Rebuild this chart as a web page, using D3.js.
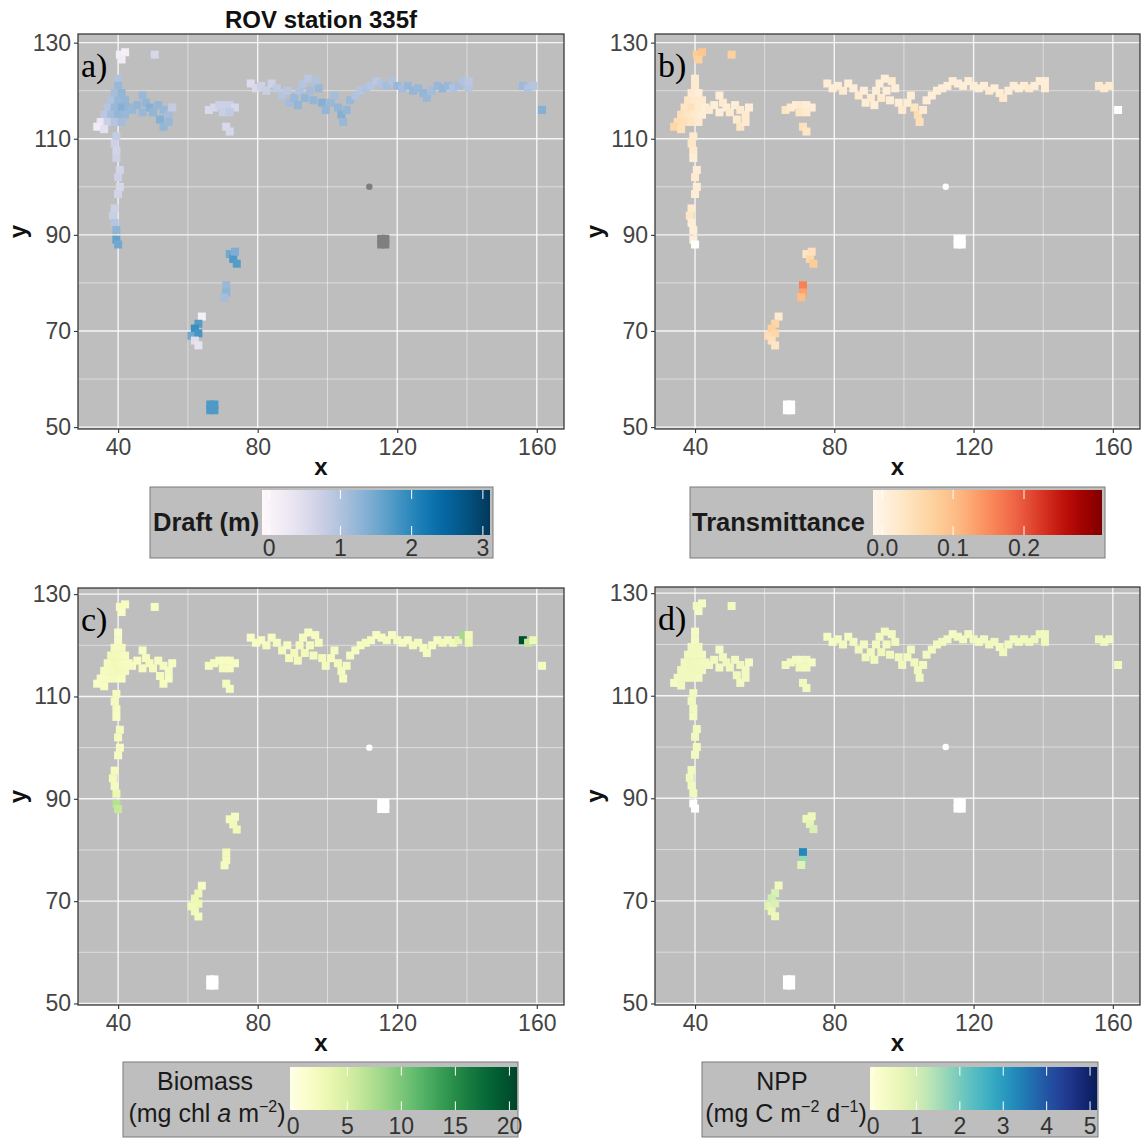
<!DOCTYPE html>
<html>
<head>
<meta charset="utf-8">
<script src="https://cdn.jsdelivr.net/npm/d3@7"></script>
<style>
  body { margin: 0; background: #fff; }
  svg { display: block; }
  text { font-family: "Liberation Sans", Arial, Helvetica, sans-serif; }
</style>
</head>
<body>
<svg id="chart" width="1142" height="1140"></svg>
<script>
// ROV survey cells at station 335f: track position (x, y in m) and per-cell measurements.
// null marks a cell without a valid value for that variable.

// Track cells, in order: surfacing patch, western blob, western stem,
// mid group, northern line, eastern end, isolated blocks, southern leg.
const cellX = [
  40.5, 42, 41, 50.5,
  40, 40, 39, 41, 38, 40, 42, 37, 39, 41, 43, 36, 38, 40, 42, 35, 37, 39, 41, 34, 36,
  44, 45.5, 47, 48, 49, 50, 47, 51.5, 53, 54.5, 55.5, 52, 53, 54.5,
  39.5, 39, 39.5, 39.5, 40.5, 40, 40.5, 40, 39, 38.5, 39, 39.5, 39.5, 40,
  66, 67.5, 69, 70.5, 72, 73.5, 70, 72, 71, 72,
  78, 79.5, 81, 82.5, 84, 85.5, 87, 88.5, 89, 90.5, 91.5, 92, 93, 93.5, 94.5, 95, 96,
  96.5, 97.5, 98.5, 99.5, 101, 102, 103, 104, 104.5, 105.5, 106.5, 108, 109.5, 111,
  112.5, 114, 115.5, 117, 118.5, 120, 121.5, 123, 124.5, 126, 127.5, 128.5, 130,
  131.5, 133, 134.5, 136, 137.5, 139, 140.5, 140.5,
  156, 157.5, 159, 161.5,
  115.4, 116.6, 115.4, 116.6,
  66.4, 67.6, 66.4, 67.6,
  72, 73, 74, 73.5, 71, 71, 70.5, 64, 63, 62, 61, 63, 62, 63
];
const cellY = [
  127.5, 128, 126.5, 127.5,
  122.5, 121, 119.5, 119.5, 118, 118, 118, 116.5, 116.5, 116.5, 116.5, 115, 115, 115, 115, 113.5, 113.5, 113.5, 113.5, 112.5, 112,
  116, 117, 119, 117.5, 116.5, 115.5, 115.5, 117, 116, 115, 116.5, 114, 112.5, 113.5,
  110.5, 109, 107.5, 106, 103.5, 102, 100, 98.5, 95.5, 94, 92.5, 91, 89, 88,
  116, 116.5, 117, 117, 117, 116.5, 115.5, 115.5, 112.5, 111.5,
  121.5, 120.5, 121, 120, 121.5, 120.5, 119, 120, 117.5, 118.5, 117, 120, 121.5, 118.5, 122.5, 120, 118,
  122, 120.5, 117.5, 116, 117.5, 119, 116.5, 115, 113.5, 116, 118, 119, 120, 120.5,
  121, 122, 121.5, 121, 122, 121, 120.5, 121, 120, 120.5, 119.5, 118.5, 120,
  121, 120.5, 121, 120.5, 121, 122, 120.5, 122,
  121, 120.5, 121, 116,
  88, 88, 89.2, 89.2,
  53.5, 53.5, 54.7, 54.7,
  86, 85, 84, 86.5, 79.5, 78, 77, 73, 71.5, 70.5, 69, 69.5, 68, 67
];
// Ice draft (m)
const draft = [
  0.15, 0.1, 0.2, 0.6,
  1.0, 1.2, 1.1, 1.25, 1.0, 1.2, 1.25, 0.95, 1.2, 1.35, 1.25, 0.9, 1.1, 1.25, 1.2, 0.3, 0.75, 0.95, 1.1, 0.2, 0.4,
  1.2, 1.25, 1.2, 1.25, 1.35, 1.25, 1.2, 1.25, 1.2, 1.1, 0.8, 1.35, 1.25, 1.2,
  0.8, 0.7, 0.65, 0.7, 0.65, 0.7, 0.6, 0.65, 0.7, 0.75, 0.95, 1.3, 1.6, 1.5,
  0.55, 0.6, 0.7, 0.7, 0.75, 0.6, 0.75, 0.85, 0.55, 0.6,
  0.5, 0.55, 0.7, 0.75, 0.7, 0.85, 0.95, 0.9, 1.1, 1.2, 1.25, 1.0, 0.95, 1.25, 0.9, 1.1, 1.25,
  1.0, 1.2, 1.35, 1.25, 1.2, 1.1, 1.25, 1.35, 1.2, 1.25, 1.2, 1.0, 0.95, 1.0,
  0.95, 0.9, 1.0, 1.1, 1.0, 1.2, 1.1, 1.2, 1.25, 1.2, 1.25, 1.2, 1.1,
  1.2, 1.25, 1.2, 1.0, 1.1, 1.0, 0.95, 0.9,
  1.15, 1.0, 0.95, 1.35,
  null, null, null, null,
  1.75, 1.75, 1.75, 1.75,
  1.5, 1.75, 1.7, 1.4, 1.2, 1.3, 1.1, 0.1, 1.7, 1.9, 1.5, 1.8, 0.45, 0.35
];
// Light transmittance through the ice
const transmittance = [
  0.08, 0.09, 0.07, 0.07,
  0.02, 0.02, 0.02, 0.01, 0.03, 0.02, 0.02, 0.03, 0.04, 0.02, 0.01, 0.04, 0.03, 0.02, 0.01, 0.05, 0.04, 0.03, 0.02, 0.06, 0.04,
  0.02, 0.01, 0.01, 0.02, 0.01, 0.02, 0.01, 0.01, 0.02, 0.02, 0.01, 0.02, 0.03, 0.02,
  0.02, 0.03, 0.02, 0.01, 0.01, 0.02, 0.01, 0.01, 0.02, 0.03, 0.01, 0.01, 0.01, null,
  0.03, 0.02, 0.01, 0.02, 0.01, 0.01, 0.03, 0.02, 0.04, 0.03,
  0.01, 0.01, 0.01, 0.02, 0.01, 0.01, 0.02, 0.01, 0.01, 0.02, 0.01, 0.01, 0.01, 0.02, 0.01, 0.01, 0.01,
  0.02, 0.01, 0.01, 0.02, 0.01, 0.01, 0.03, 0.05, 0.04, 0.02, 0.01, 0.01, 0.01, 0.01,
  0.01, 0.01, 0.01, 0.01, 0.01, 0.01, 0.01, 0.01, 0.02, 0.01, 0.01, 0.02, 0.01,
  0.01, 0.01, 0.01, 0.02, 0.01, 0.01, 0.01, 0.01,
  0.02, 0.02, 0.02, null,
  null, null, null, null,
  null, null, null, null,
  0.03, 0.06, 0.08, 0.04, 0.16, 0.13, 0.10, 0.02, 0.06, 0.07, 0.05, 0.06, 0.04, 0.03
];
// Ice-algal biomass (mg chl a m-2)
const biomass = [
  2.0, 1.8, 1.5, 1.8,
  1.2, 1.5, 2.0, 2.2, 2.5, 2.4, 2.0, 2.2, 2.6, 2.3, 1.9, 2.0, 2.4, 2.5, 2.1, 1.8, 2.0, 2.2, 1.9, 1.6, 1.8,
  2.0, 1.9, 1.8, 2.1, 2.3, 2.2, 2.0, 2.0, 2.1, 2.0, 1.7, 2.2, 2.0, 1.9,
  2.0, 2.2, 2.0, 1.8, 2.1, 2.3, 2.0, 1.9, 2.2, 2.4, 2.1, 3.0, 7.0, 6.0,
  2.0, 2.2, 2.0, 1.8, 1.9, 1.7, 2.1, 2.0, 2.2, 2.0,
  1.6, 1.8, 1.9, 2.0, 1.7, 2.0, 2.2, 2.0, 2.3, 2.4, 2.2, 2.1, 2.0, 2.5, 1.9, 2.2, 2.3,
  2.0, 2.2, 2.4, 2.1, 2.0, 2.2, 2.4, 2.3, 2.0, 2.1, 2.0, 1.9, 2.0, 2.2,
  2.0, 1.8, 2.0, 2.1, 2.0, 2.2, 2.0, 1.9, 2.1, 2.2, 2.0, 2.3, 2.0,
  1.9, 2.4, 2.2, 2.6, 3.5, 8.0, 3.0, 2.5,
  20.0, 6.0, 3.0, 2.0,
  null, null, null, null,
  null, null, null, null,
  2.2, 2.5, 2.8, 2.0, 2.6, 2.4, 2.2, 1.8, 2.8, 3.2, 2.6, 2.9, 2.5, 2.2
];
// Net primary production (mg C m-2 d-1)
const npp = [
  0.35, 0.3, 0.3, 0.35,
  0.3, 0.3, 0.35, 0.4, 0.4, 0.4, 0.35, 0.4, 0.45, 0.4, 0.35, 0.4, 0.4, 0.45, 0.4, 0.35, 0.4, 0.4, 0.35, 0.3, 0.35,
  0.35, 0.35, 0.3, 0.35, 0.4, 0.4, 0.35, 0.35, 0.4, 0.35, 0.3, 0.4, 0.35, 0.35,
  0.35, 0.4, 0.35, 0.3, 0.35, 0.4, 0.35, 0.35, 0.35, 0.4, 0.35, 0.4, null, null,
  0.35, 0.4, 0.35, 0.3, 0.35, 0.3, 0.4, 0.35, 0.4, 0.35,
  0.3, 0.3, 0.35, 0.35, 0.3, 0.35, 0.4, 0.35, 0.4, 0.4, 0.4, 0.35, 0.35, 0.45, 0.35, 0.4, 0.4,
  0.35, 0.4, 0.4, 0.4, 0.35, 0.4, 0.4, 0.4, 0.35, 0.35, 0.35, 0.35, 0.35, 0.4,
  0.35, 0.3, 0.35, 0.35, 0.35, 0.4, 0.35, 0.35, 0.35, 0.4, 0.35, 0.4, 0.35,
  0.35, 0.4, 0.4, 0.45, 0.5, 0.5, 0.45, 0.4,
  0.5, 0.45, 0.4, 0.35,
  null, null, null, null,
  null, null, null, null,
  0.5, 0.7, 0.9, 0.5, 3.3, 1.7, 0.8, 0.4, 0.9, 1.0, 0.8, 0.9, 0.6, 0.5
];
// Single sounding point without any measurement
const probeX = [112];
const probeY = [100];

// Axis and colour-bar breaks
const xTicks = [40, 80, 120, 160];
const xMinor = [60, 100, 140];
const yTicks = [50, 70, 90, 110, 130];
const yMinor = [60, 80, 100, 120];
const draftTicks = [0, 1, 2, 3];
const transTicks = [0, 0.1, 0.2];
const biomassTicks = [0, 5, 10, 15, 20];
const nppTicks = [0, 1, 2, 3, 4, 5];

const svg = d3.select('#chart');
svg.append('rect').attr('width', 1142).attr('height', 1140).attr('fill', '#ffffff');

const xDomain = [28.5, 167.8];
const PANEL_BG = '#bebebe';

const panels = [
  { tag: 'a)', values: draft, interp: d3.interpolatePuBu, na: '#7f7f7f',
    left: 78, right: 564, top: 34, bottom: 429, yDomain: [49.6, 131.8],
    legend: { box: [150, 487, 493, 558], bar: [262, 490, 490, 535], domain: [-0.1, 3.1],
              ticks: draftTicks, fmt: d3.format('d'), tickBase: 556,
              title: [{ text: 'Draft (m)', x: 153, y: 531, anchor: 'start', bold: true }] } },
  { tag: 'b)', values: transmittance, interp: d3.interpolateOrRd, na: '#ffffff',
    left: 655, right: 1140, top: 34, bottom: 429, yDomain: [49.6, 131.8],
    legend: { box: [690, 487, 1105, 558], bar: [873, 490, 1102, 535], domain: [-0.013, 0.31],
              ticks: transTicks, fmt: d3.format('.1f'), tickBase: 556,
              title: [{ text: 'Transmittance', x: 692, y: 531, anchor: 'start', bold: true }] } },
  { tag: 'c)', values: biomass, interp: d3.interpolateYlGn, na: '#ffffff',
    left: 78, right: 564, top: 588, bottom: 1005, yDomain: [49.7, 131.2],
    legend: { box: [123, 1062, 518, 1137], bar: [290, 1067, 517, 1110], domain: [-0.3, 20.7],
              ticks: biomassTicks, fmt: d3.format('d'), tickBase: 1134,
              title: [{ text: 'Biomass', x: 205, y: 1090, anchor: 'middle' },
                      { rich: 'biomass', x: 207, y: 1122, anchor: 'middle' }] } },
  { tag: 'd)', values: npp, interp: d3.interpolateYlGnBu, na: '#ffffff',
    left: 655, right: 1140, top: 587, bottom: 1005, yDomain: [49.7, 131.2],
    legend: { box: [702, 1062, 1098, 1137], bar: [870, 1067, 1097, 1110], domain: [-0.07, 5.16],
              ticks: nppTicks, fmt: d3.format('d'), tickBase: 1134,
              title: [{ text: 'NPP', x: 782, y: 1090, anchor: 'middle' },
                      { rich: 'npp', x: 786, y: 1122, anchor: 'middle' }] } }
];

const cells = cellX.map((x, i) => ({ x, y: cellY[i], i }));
const defs = svg.append('defs');

panels.forEach((p, pi) => {
  const g = svg.append('g');
  const x = d3.scaleLinear().domain(xDomain).range([p.left, p.right]);
  const y = d3.scaleLinear().domain(p.yDomain).range([p.bottom, p.top]);
  const color = d3.scaleSequential(p.interp).domain(p.legend.domain);
  const fill = v => (v == null ? p.na : color(v));

  const clipId = 'clip' + pi;
  defs.append('clipPath').attr('id', clipId)
    .append('rect').attr('x', p.left).attr('y', p.top)
    .attr('width', p.right - p.left).attr('height', p.bottom - p.top);

  g.append('rect').attr('x', p.left).attr('y', p.top)
    .attr('width', p.right - p.left).attr('height', p.bottom - p.top)
    .attr('fill', PANEL_BG);

  const grid = g.append('g').attr('clip-path', `url(#${clipId})`);
  grid.selectAll('.vminor').data(xMinor).join('line')
    .attr('x1', d => x(d)).attr('x2', d => x(d)).attr('y1', p.top).attr('y2', p.bottom)
    .attr('stroke', '#ffffff').attr('stroke-opacity', 0.6).attr('stroke-width', 0.8);
  grid.selectAll('.hminor').data(yMinor).join('line')
    .attr('y1', d => y(d)).attr('y2', d => y(d)).attr('x1', p.left).attr('x2', p.right)
    .attr('stroke', '#ffffff').attr('stroke-opacity', 0.6).attr('stroke-width', 0.8);
  grid.selectAll('.vmajor').data(xTicks).join('line')
    .attr('x1', d => x(d)).attr('x2', d => x(d)).attr('y1', p.top).attr('y2', p.bottom)
    .attr('stroke', '#ffffff').attr('stroke-opacity', 0.85).attr('stroke-width', 1.4);
  grid.selectAll('.hmajor').data(yTicks).join('line')
    .attr('y1', d => y(d)).attr('y2', d => y(d)).attr('x1', p.left).attr('x2', p.right)
    .attr('stroke', '#ffffff').attr('stroke-opacity', 0.85).attr('stroke-width', 1.4);

  // Survey cells
  const S = 8;
  const marks = g.append('g').attr('clip-path', `url(#${clipId})`);
  marks.selectAll('rect.cell').data(cells).join('rect')
    .attr('class', 'cell')
    .attr('x', d => x(d.x) - S / 2).attr('y', d => y(d.y) - S / 2)
    .attr('width', S).attr('height', S)
    .attr('fill', d => fill(p.values[d.i]));
  marks.selectAll('circle.probe').data(probeX.map((px, i) => ({ x: px, y: probeY[i] }))).join('circle')
    .attr('class', 'probe')
    .attr('cx', d => x(d.x)).attr('cy', d => y(d.y)).attr('r', 3.2)
    .attr('fill', p.na);

  // Panel border
  g.append('rect').attr('x', p.left).attr('y', p.top)
    .attr('width', p.right - p.left).attr('height', p.bottom - p.top)
    .attr('fill', 'none').attr('stroke', '#3a3a3a').attr('stroke-width', 1.3);

  // Axes
  const ax = g.append('g').attr('transform', `translate(0,${p.bottom})`)
    .call(d3.axisBottom(x).tickValues(xTicks).tickSize(4).tickPadding(4));
  const ay = g.append('g').attr('transform', `translate(${p.left},0)`)
    .call(d3.axisLeft(y).tickValues(yTicks).tickSize(4).tickPadding(3));
  [ax, ay].forEach(a => {
    a.select('.domain').remove();
    a.selectAll('line').attr('stroke', '#333333').attr('stroke-width', 1.1);
    a.selectAll('text').attr('fill', '#444444').style('font-size', '23px')
      .style('font-family', '"Liberation Sans", Arial, sans-serif');
  });
  ax.selectAll('text').attr('dy', null).attr('y', 26);

  g.append('text').attr('x', (p.left + p.right) / 2).attr('y', p.bottom + 46)
    .attr('text-anchor', 'middle').style('font-size', '24px').style('font-weight', 'bold')
    .attr('fill', '#111').text('x');
  g.append('text')
    .attr('transform', `translate(${p.left - 52},${(p.top + p.bottom) / 2}) rotate(-90)`)
    .attr('text-anchor', 'middle').style('font-size', '24px').style('font-weight', 'bold')
    .attr('fill', '#111').text('y');

  // Panel tag
  g.append('text').attr('x', p.left + 3).attr('y', p.top + 43)
    .style('font-family', '"Liberation Serif", "Times New Roman", serif')
    .style('font-size', '34px').attr('fill', '#000').text(p.tag);

  // Colour bar legend
  const L = p.legend;
  const lg = svg.append('g');
  lg.append('rect').attr('x', L.box[0]).attr('y', L.box[1])
    .attr('width', L.box[2] - L.box[0]).attr('height', L.box[3] - L.box[1])
    .attr('fill', PANEL_BG).attr('stroke', '#7a7a7a').attr('stroke-width', 1);
  const gradId = 'grad' + pi;
  const grad = defs.append('linearGradient').attr('id', gradId)
    .attr('x1', '0%').attr('x2', '100%').attr('y1', '0%').attr('y2', '0%');
  d3.range(0, 21).forEach(k => {
    grad.append('stop').attr('offset', (k * 5) + '%').attr('stop-color', p.interp(k / 20));
  });
  lg.append('rect').attr('x', L.bar[0]).attr('y', L.bar[1])
    .attr('width', L.bar[2] - L.bar[0]).attr('height', L.bar[3] - L.bar[1])
    .attr('fill', `url(#${gradId})`);
  const lx = d3.scaleLinear().domain(L.domain).range([L.bar[0], L.bar[2]]);
  const bh = L.bar[3] - L.bar[1];
  L.ticks.forEach(t => {
    lg.append('line').attr('x1', lx(t)).attr('x2', lx(t))
      .attr('y1', L.bar[3] - bh * 0.2).attr('y2', L.bar[3])
      .attr('stroke', '#ffffff').attr('stroke-width', 1);
    lg.append('line').attr('x1', lx(t)).attr('x2', lx(t))
      .attr('y1', L.bar[1]).attr('y2', L.bar[1] + bh * 0.2)
      .attr('stroke', '#ffffff').attr('stroke-width', 1);
    lg.append('text').attr('x', lx(t)).attr('y', L.tickBase)
      .attr('text-anchor', 'middle').style('font-size', '23px').attr('fill', '#333')
      .text(L.fmt(t));
  });
  L.title.forEach(tt => {
    const t = lg.append('text').attr('x', tt.x).attr('y', tt.y).attr('text-anchor', tt.anchor)
      .style('font-size', tt.bold ? '25.5px' : '25px')
      .style('font-weight', tt.bold ? 'bold' : 'normal').attr('fill', '#1a1a1a');
    if (tt.text) { t.text(tt.text); return; }
    if (tt.rich === 'biomass') {
      t.append('tspan').text('(mg chl ');
      t.append('tspan').style('font-style', 'italic').text('a');
      t.append('tspan').text(' m');
      t.append('tspan').attr('dy', -10).style('font-size', '16px').text('\u22122');
      t.append('tspan').attr('dy', 10).text(')');
    } else {
      t.append('tspan').text('(mg C m');
      t.append('tspan').attr('dy', -10).style('font-size', '16px').text('\u22122');
      t.append('tspan').attr('dy', 10).text(' d');
      t.append('tspan').attr('dy', -10).style('font-size', '16px').text('\u22121');
      t.append('tspan').attr('dy', 10).text(')');
    }
  });
});

// Figure title above panel a
svg.append('text').attr('x', (78 + 564) / 2).attr('y', 28)
  .attr('text-anchor', 'middle').style('font-size', '24px').style('font-weight', 'bold')
  .attr('fill', '#111').text('ROV station 335f');
</script>
</body>
</html>
